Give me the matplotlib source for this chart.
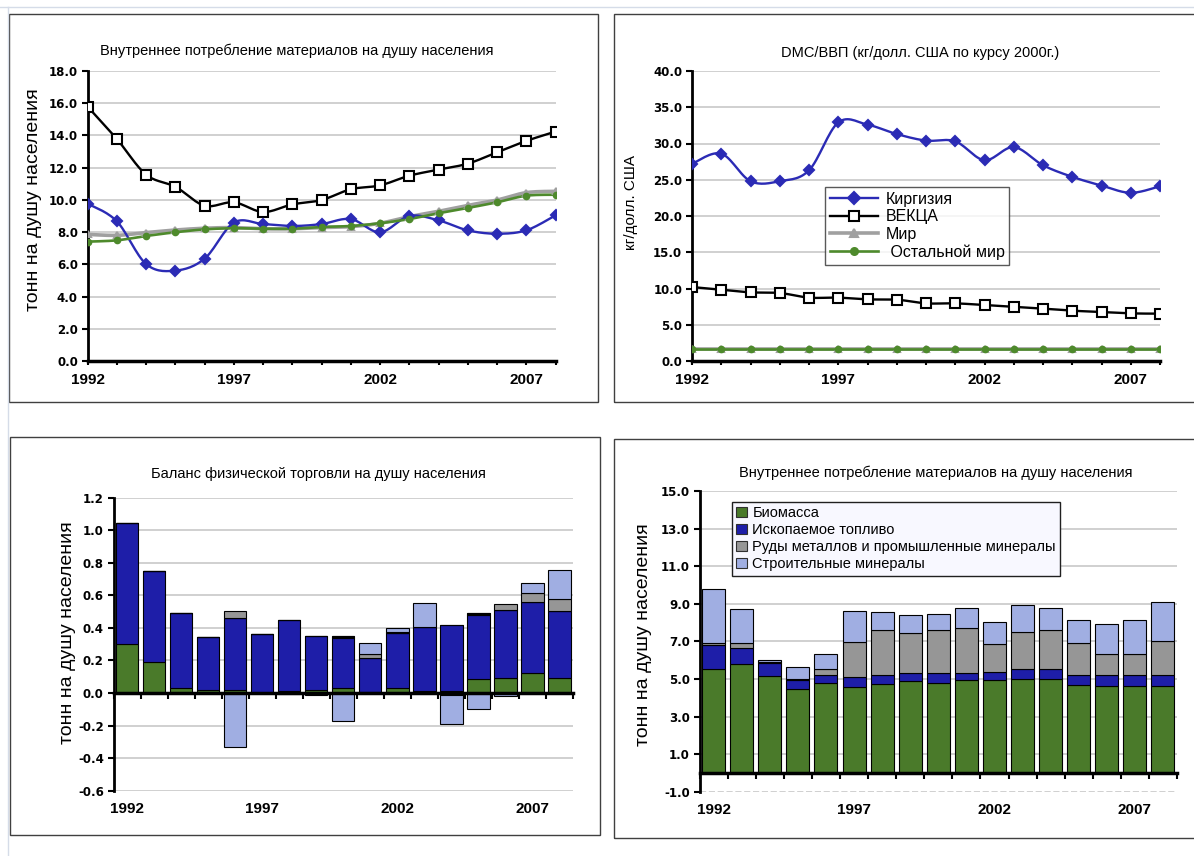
import matplotlib
matplotlib.use('Agg')
import matplotlib.pyplot as plt
import numpy as np
from matplotlib.lines import Line2D
from matplotlib.patches import Rectangle, Patch
from matplotlib import font_manager

plt.rcParams['font.family'] = ['Liberation Sans', 'DejaVu Sans']
plt.rcParams['axes.unicode_minus'] = False

W, H = 1194, 856

# ---------------- data ----------------
years = np.arange(1992, 2009)
year_ticks = [1992, 1997, 2002, 2007]

# DMC per capita, t/person
dmc_kg = [9.77, 8.67, 6.02, 5.61, 6.35, 8.59, 8.50, 8.38, 8.50, 8.81, 7.99, 9.00, 8.73, 8.11, 7.90, 8.11, 9.04]
dmc_eeca = [15.79, 13.78, 11.57, 10.82, 9.64, 9.85, 9.25, 9.72, 9.99, 10.66, 10.90, 11.50, 11.88, 12.25, 12.95, 13.66, 14.24]
dmc_world = [7.86, 7.80, 7.97, 8.13, 8.24, 8.28, 8.21, 8.21, 8.28, 8.34, 8.55, 8.96, 9.29, 9.66, 9.99, 10.45, 10.53]
dmc_rest = [7.41, 7.49, 7.76, 7.99, 8.17, 8.24, 8.21, 8.21, 8.32, 8.38, 8.55, 8.81, 9.17, 9.50, 9.85, 10.26, 10.32]

# DMC/GDP, kg per USD (2000)
gdp_kg = [27.2, 28.6, 24.8, 24.8, 26.3, 32.9, 32.6, 31.3, 30.4, 30.3, 27.7, 29.5, 27.0, 25.4, 24.2, 23.2, 24.1]
gdp_eeca = [10.2, 9.84, 9.47, 9.38, 8.74, 8.74, 8.50, 8.46, 7.95, 7.95, 7.72, 7.49, 7.22, 6.94, 6.76, 6.57, 6.53]
gdp_world = [1.70] * 17
gdp_rest = [1.68] * 17

# physical trade balance per capita, t/person
ptb_bio = [0.30, 0.193, 0.029, 0.02, 0.02, 0.0, 0.01, 0.02, 0.029, 0.005, 0.03, 0.01, 0.01, 0.086, 0.092, 0.123, 0.092]
ptb_fossil = [0.745, 0.557, 0.461, 0.322, 0.441, 0.36, 0.44, 0.332, 0.31, 0.212, 0.337, 0.394, 0.408, 0.396, 0.418, 0.436, 0.412]
ptb_other = [0, 0, 0, 0.004, 0, 0, 0, 0, 0.01, 0, 0, 0, 0, 0.012, 0, 0, 0]
ptb_ores = [0, 0, 0, 0, 0.045, 0, 0, 0, 0, 0.021, 0.005, 0, -0.015, 0, 0.037, 0.054, 0.072]
ptb_constr = [0, 0, 0, 0, -0.33, 0, -0.005, -0.01, -0.17, 0.072, 0.03, 0.15, -0.175, -0.10, -0.02, 0.065, 0.18]

# DMC by material group, t/person
mat_bio = [5.52, 5.77, 5.13, 4.44, 4.76, 4.58, 4.72, 4.88, 4.81, 4.97, 4.97, 5.02, 5.02, 4.70, 4.65, 4.65, 4.65]
mat_fossil = [1.29, 0.90, 0.74, 0.51, 0.44, 0.50, 0.48, 0.46, 0.48, 0.32, 0.42, 0.50, 0.50, 0.50, 0.55, 0.55, 0.55]
mat_ores = [0.09, 0.23, 0.03, 0.05, 0.34, 1.86, 2.38, 2.11, 2.29, 2.41, 1.46, 2.00, 2.06, 1.70, 1.12, 1.12, 1.81]
mat_constr = [2.88, 1.81, 0.13, 0.66, 0.80, 1.65, 0.96, 0.96, 0.87, 1.07, 1.17, 1.44, 1.19, 1.25, 1.58, 1.83, 2.06]
mat_labels = ['Биомасса', 'Ископаемое топливо', 'Руды металлов и промышленные минералы', 'Строительные минералы']

BLUE = '#2B2BB5'
GREEN = '#4E8A2C'
GRAY = '#A0A0A0'
BAR_GREEN = '#4A7A2A'
BAR_BLUE = '#1E1EA8'
BAR_GRAY = '#969696'
BAR_LB = '#A0AEE2'
GRID = '#C8C8C8'

installed = {f.name for f in font_manager.fontManager.ttflist}
NARROW = 'Liberation Sans Narrow' if 'Liberation Sans Narrow' in installed else 'Liberation Sans'
YEAR_FONT = dict(family=NARROW, fontweight='bold', fontsize=12 if NARROW != 'Liberation Sans' else 11)
TICK_FONT = dict(family='DejaVu Sans', fontweight='bold', fontsize=8.5)


def box(l, t, r, b):
    return [l / W, 1 - b / H, (r - l) / W, (b - t) / H]


def smooth(x, y, n=16):
    x = np.asarray(x, float)
    y = np.asarray(y, float)
    xs, ys = [x[:1]], [y[:1]]
    t = np.linspace(0, 1, n + 1)[1:]
    for i in range(len(x) - 1):
        i0, i3 = max(i - 1, 0), min(i + 2, len(x) - 1)
        c1x, c1y = x[i] + (x[i + 1] - x[i0]) / 6, y[i] + (y[i + 1] - y[i0]) / 6
        c2x, c2y = x[i + 1] - (x[i3] - x[i]) / 6, y[i + 1] - (y[i3] - y[i]) / 6
        xs.append((1 - t) ** 3 * x[i] + 3 * (1 - t) ** 2 * t * c1x + 3 * (1 - t) * t ** 2 * c2x + t ** 3 * x[i + 1])
        ys.append((1 - t) ** 3 * y[i] + 3 * (1 - t) ** 2 * t * c1y + 3 * (1 - t) * t ** 2 * c2y + t ** 3 * y[i + 1])
    return np.concatenate(xs), np.concatenate(ys)


def style(ax, yticks, fmt='%.1f', dashed=()):
    ax.set_ylim(yticks[0], yticks[-1])
    ax.set_yticks(yticks)
    ax.set_yticklabels([fmt % v for v in yticks], **TICK_FONT)
    for s in ['top', 'right']:
        ax.spines[s].set_visible(False)
    ax.spines['left'].set_linewidth(2)
    ax.spines['bottom'].set_linewidth(2.5)
    ax.tick_params(axis='y', direction='out', length=4, width=1.5, pad=3)
    for v in yticks:
        ax.axhline(v, color=GRID, lw=1.2, zorder=0, ls='--' if v in dashed else '-')
    ax.set_facecolor('none')


fig = plt.figure(figsize=(W / 100, H / 100), dpi=100)

# page lines and panel frames
fig.add_artist(Line2D([0, 1], [1 - 7 / H] * 2, color='#D5DCE8', lw=1))
fig.add_artist(Line2D([8 / W] * 2, [0, 1 - 7 / H], color='#D5DCE8', lw=1))
for l, t, r, b in [(8.5, 14, 598, 402), (614, 14, 1200, 402), (10, 437, 600, 835), (614, 439, 1200, 838)]:
    fig.add_artist(Rectangle((l / W, 1 - b / H), (r - l) / W, (b - t) / H,
                             transform=fig.transFigure, fill=False, ec='#404040', lw=1))


def line_axes(ax):
    ax.set_xlim(1992, 2008)
    ax.set_xticks(year_ticks)
    ax.set_xticklabels([str(y) for y in year_ticks], **YEAR_FONT)
    ax.set_xticks(years, minor=True)
    ax.tick_params(axis='x', which='both', direction='out', length=3, width=1.5, pad=6)


# ---------------- top-left ----------------
ax1 = fig.add_axes(box(87.6, 71, 555.5, 361))
style(ax1, np.arange(0, 18.1, 2))
line_axes(ax1)
for vals, col, mk, ms, lw, mfc in [(dmc_eeca, 'black', 's', 6.5, 1.7, 'white'),
                                  (dmc_world, GRAY, '^', 5, 2.6, GRAY),
                                  (dmc_kg, BLUE, 'D', 5.5, 1.7, BLUE),
                                  (dmc_rest, GREEN, 'o', 4, 1.9, GREEN)]:
    sx, sy = smooth(years, vals)
    ax1.plot(sx, sy, color=col, lw=lw, zorder=3)
    ax1.plot(years, vals, ls='none', marker=mk, ms=ms, mfc=mfc, mec=col, mew=1.5, zorder=4)
fig.text(296.6 / W, 1 - 51 / H, 'Внутреннее потребление материалов на душу населения',
         ha='center', va='center', fontsize=10.5)
fig.text(33.5 / W, 1 - 199.5 / H, 'тонн на душу населения', rotation=90,
         ha='center', va='center', fontsize=14)

# ---------------- top-right ----------------
ax2 = fig.add_axes(box(692, 71, 1160, 361))
style(ax2, np.arange(0, 40.1, 5))
line_axes(ax2)
handles = {}
names = ['Киргизия', 'ВЕКЦА', 'Мир', 'Остальной мир']
for name, vals, col, mk, ms, lw, mfc in [('ВЕКЦА', gdp_eeca, 'black', 's', 6.5, 1.7, 'white'),
                                        ('Мир', gdp_world, GRAY, '^', 5, 2.6, GRAY),
                                        ('Остальной мир', gdp_rest, GREEN, 'o', 4, 1.9, GREEN),
                                        ('Киргизия', gdp_kg, BLUE, 'D', 5.5, 1.7, BLUE)]:
    sx, sy = smooth(years, vals)
    ax2.plot(sx, sy, color=col, lw=lw, zorder=3)
    ax2.plot(years, vals, ls='none', marker=mk, ms=ms, mfc=mfc, mec=col, mew=1.5, zorder=4)
    handles[name] = Line2D([], [], color=col, lw=lw, marker=mk, ms=ms + 1, mfc=mfc, mec=col, mew=1.5)
leg = ax2.legend([handles[n] for n in names], ['Киргизия', 'ВЕКЦА', 'Мир', ' Остальной мир'],
                 loc='upper left', bbox_to_anchor=(825 / W, 1 - 187 / H), bbox_transform=fig.transFigure,
                 fontsize=11.5, frameon=True, fancybox=False, edgecolor='#303030',
                 handlelength=3.0, borderaxespad=0, borderpad=0.3, labelspacing=0.16,
                 handletextpad=0.5)
leg.get_frame().set_linewidth(1)
fig.text(920 / W, 1 - 53 / H, 'DMC/ВВП (кг/долл. США по курсу 2000г.)',
         ha='center', va='center', fontsize=10.5)
fig.text(631 / W, 1 - 202.5 / H, 'кг/долл. США', rotation=90,
         ha='center', va='center', fontsize=11)


def bar_axes(ax):
    ax.set_xlim(-0.5, 16.5)
    ax.spines['bottom'].set_position(('data', 0))
    ax.set_xticks(np.arange(-0.5, 17, 1))
    ax.set_xticklabels([])
    ax.tick_params(axis='x', direction='out', length=4, width=1.5)
    sec = ax.secondary_xaxis('bottom')
    sec.set_xticks([y - 1992 for y in year_ticks])
    sec.set_xticklabels([str(y) for y in year_ticks], **YEAR_FONT)
    sec.tick_params(length=0, pad=8)
    sec.spines['bottom'].set_visible(False)


# ---------------- bottom-left ----------------
ax3 = fig.add_axes(box(113.5, 497.7, 573, 790.7))
style(ax3, np.round(np.arange(-0.6, 1.21, 0.2), 1))
bar_axes(ax3)
x = np.arange(len(years))
pos = np.zeros(len(x))
neg = np.zeros(len(x))
for vals, col in [(ptb_bio, BAR_GREEN), (ptb_fossil, BAR_BLUE), (ptb_other, 'black'),
                  (ptb_ores, BAR_GRAY), (ptb_constr, BAR_LB)]:
    v = np.asarray(vals, float)
    bottom = np.where(v >= 0, pos, neg)
    ax3.bar(x, v, 0.83, bottom=bottom, color=col, edgecolor='black', lw=0.8, zorder=2)
    pos = pos + np.where(v >= 0, v, 0)
    neg = neg + np.where(v < 0, v, 0)
fig.text(318 / W, 1 - 474 / H, 'Баланс физической торговли на душу населения',
         ha='center', va='center', fontsize=10.5)
fig.text(68 / W, 1 - 633 / H, 'тонн на душу населения', rotation=90,
         ha='center', va='center', fontsize=14)

# ---------------- bottom-right ----------------
ax4 = fig.add_axes(box(699.6, 491, 1177, 791.7))
style(ax4, np.arange(-1, 15.1, 2), dashed=(-1,))
bar_axes(ax4)
bottom = np.zeros(len(x))
cols = [BAR_GREEN, BAR_BLUE, BAR_GRAY, BAR_LB]
for vals, col in zip([mat_bio, mat_fossil, mat_ores, mat_constr], cols):
    ax4.bar(x, vals, 0.82, bottom=bottom, color=col, edgecolor='black', lw=0.8, zorder=2)
    bottom = bottom + np.asarray(vals)
leg4 = ax4.legend([Patch(fc=c, ec='#303030', lw=0.8) for c in cols], mat_labels, loc='upper left',
                  bbox_to_anchor=(732 / W, 1 - 502 / H), bbox_transform=fig.transFigure,
                  fontsize=10.5, frameon=True, fancybox=False, edgecolor='#202020',
                  facecolor='#F8F8FF', framealpha=1, handlelength=0.7, handleheight=0.7,
                  handletextpad=0.4, borderaxespad=0, borderpad=0.3, labelspacing=0.2)
leg4.get_frame().set_linewidth(1)
fig.text(935.6 / W, 1 - 473 / H, 'Внутреннее потребление материалов на душу населения',
         ha='center', va='center', fontsize=10.5)
fig.text(643 / W, 1 - 635 / H, 'тонн на душу населения', rotation=90,
         ha='center', va='center', fontsize=14)

fig.savefig('out.png', dpi=100)
